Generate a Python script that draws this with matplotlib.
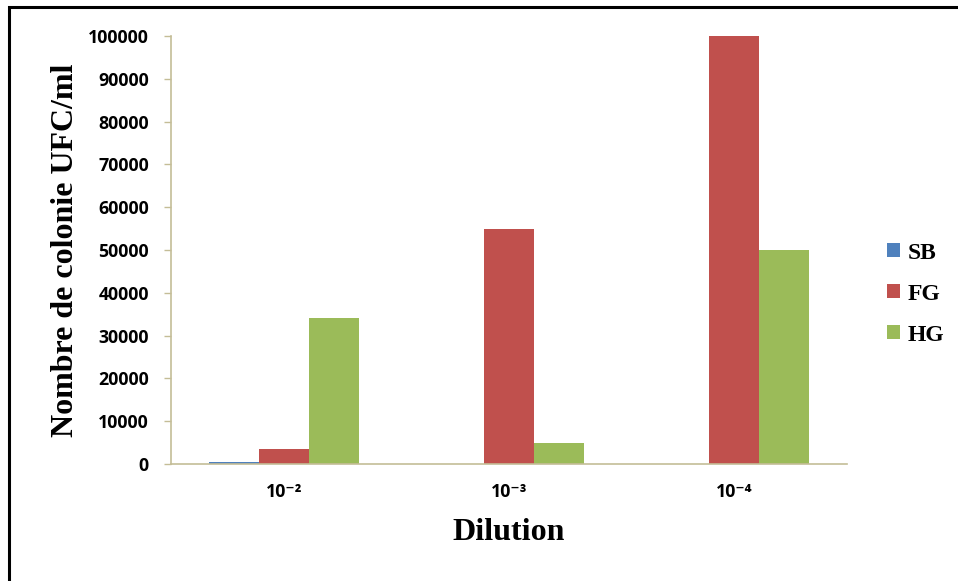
import numpy as np
import matplotlib
matplotlib.use("Agg")
import matplotlib.pyplot as plt
from matplotlib.patches import Rectangle

dilutions = ["10⁻²", "10⁻³", "10⁻⁴"]
series = ["SB", "FG", "HG"]
sb = [500, 0, 0]
fg = [3500, 55000, 100000]
hg = [34000, 5000, 50000]
colors = ["#4F81BD", "#C0504D", "#9BBB59"]

fig = plt.figure(figsize=(9.58, 5.81), dpi=100)
ax = fig.add_axes([0.1785, 0.2014, 0.7055, 0.7366])

x = np.arange(len(dilutions))
w = 0.222
for i, (name, vals) in enumerate(zip(series, [sb, fg, hg])):
    ax.bar(x + (i - 1) * w, vals, width=w, color=colors[i], label=name)

ax.set_xlim(-0.5, 2.5)
ax.set_ylim(0, 100000)
ax.set_yticks(np.arange(0, 100001, 10000))
ax.set_xticks(x)
ax.set_xticklabels(dilutions)

axis_col = "#C4BD97"
for s in ["top", "right"]:
    ax.spines[s].set_visible(False)
for s in ["left", "bottom"]:
    ax.spines[s].set_color(axis_col)
    ax.spines[s].set_linewidth(1.2)
ax.tick_params(axis="y", color=axis_col, length=5, width=1, pad=11)
ax.tick_params(axis="x", length=0, pad=14)
for lab in ax.get_yticklabels() + ax.get_xticklabels():
    lab.set_fontfamily(["Open Sans", "DejaVu Sans"])
    lab.set_fontweight("bold")
    lab.set_fontsize(12.8)

ax.set_ylabel("Nombre de colonie UFC/ml", family="Liberation Serif", fontweight="bold", fontsize=23, labelpad=6)
ax.set_xlabel("Dilution", family="Liberation Serif", fontweight="bold", fontsize=23, labelpad=12)

leg = ax.legend(loc="center left", bbox_to_anchor=(1.06, 0.397), frameon=False,
                prop={"family": "Liberation Serif", "weight": "bold", "size": 17},
                handlelength=0.55, handleheight=0.55, handletextpad=0.3, labelspacing=0.85,
                borderpad=0, borderaxespad=0)

fig.patches.append(Rectangle((9 / 958, -0.1), 1.2, 1 - 7 / 581 + 0.1, transform=fig.transFigure,
                             fill=False, edgecolor="black", linewidth=2.2))

fig.savefig("out.png", dpi=100)
